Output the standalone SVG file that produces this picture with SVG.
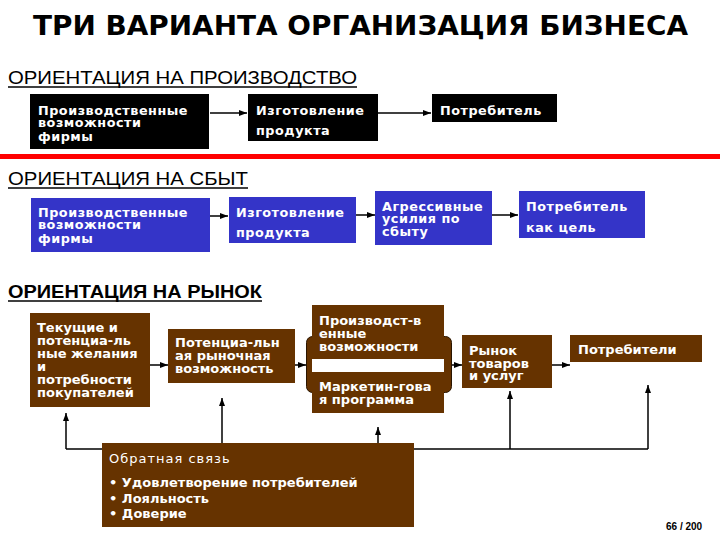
<svg xmlns="http://www.w3.org/2000/svg" width="720" height="540" viewBox="0 0 720 540">
<defs>
<marker id="ah" viewBox="0 0 8 6" refX="8" refY="3" markerWidth="8" markerHeight="6" orient="auto" markerUnits="userSpaceOnUse"><path d="M0,0 L8,3 L0,6 z" fill="#000"/></marker>
<style>
.title{font-family:"DejaVu Sans",sans-serif;font-weight:bold;font-size:27px;fill:#000}
.hdr{font-family:"Liberation Sans",Arial,sans-serif;font-size:18px;fill:#000}
.hdrb{font-family:"Liberation Sans",Arial,sans-serif;font-size:18px;font-weight:bold;fill:#000}
.ul{stroke:#000;stroke-width:1.5}
.blk{fill:#000}
.blu{fill:#3434C8}
.brn{fill:#663300}
.t{font-family:"DejaVu Sans",Verdana,sans-serif;font-size:13px;letter-spacing:1px;fill:#fff}
.tb{font-family:"DejaVu Sans",Verdana,sans-serif;font-size:13px;font-weight:bold;fill:#fff}
.tr{font-family:"DejaVu Sans",Verdana,sans-serif;font-size:12.8px;font-weight:bold;letter-spacing:0.5px;fill:#fff}
.con line,.con path{stroke:#000;stroke-width:1.5;fill:none}
.arr{marker-end:url(#ah)}
.pg{font-family:"Liberation Sans",Arial,sans-serif;font-size:10px;font-weight:bold;fill:#000}
</style>
</defs>
<rect x="0" y="0" width="720" height="540" fill="#fff"/>

<text class="title" x="33" y="35" textLength="655" lengthAdjust="spacingAndGlyphs">ТРИ ВАРИАНТА ОРГАНИЗАЦИЯ БИЗНЕСА</text>

<g id="header1">
<text class="hdr" x="8" y="84" textLength="349" lengthAdjust="spacingAndGlyphs">ОРИЕНТАЦИЯ НА ПРОИЗВОДСТВО</text>
<line class="ul" x1="8" y1="87" x2="357" y2="87"/>
</g>
<g id="header2">
<text class="hdr" x="8" y="185" textLength="240" lengthAdjust="spacingAndGlyphs">ОРИЕНТАЦИЯ НА СБЫТ</text>
<line class="ul" x1="8" y1="188" x2="248" y2="188"/>
</g>
<g id="header3">
<text class="hdrb" x="8" y="298" textLength="254" lengthAdjust="spacingAndGlyphs">ОРИЕНТАЦИЯ НА РЫНОК</text>
<line class="ul" x1="8" y1="301" x2="262" y2="301"/>
</g>

<rect id="redline" x="0" y="154" width="720" height="5" fill="#FF0000"/>

<g id="connectors" class="con">
<line class="arr" x1="210" y1="113" x2="247" y2="113"/>
<line class="arr" x1="378" y1="113" x2="431" y2="113"/>
<line class="arr" x1="210" y1="216" x2="228" y2="216"/>
<line class="arr" x1="356" y1="215" x2="375" y2="215"/>
<line class="arr" x1="492" y1="215" x2="518" y2="215"/>
<line class="arr" x1="150" y1="365" x2="168" y2="365"/>
<line class="arr" x1="295" y1="365" x2="306" y2="365"/>
<line class="arr" x1="452" y1="365" x2="462" y2="365"/>
<line class="arr" x1="552" y1="365" x2="570" y2="365"/>
<line x1="66" y1="449" x2="648" y2="449"/>
<line class="arr" x1="66" y1="449" x2="66" y2="413"/>
<line class="arr" x1="222" y1="443" x2="222" y2="398"/>
<line class="arr" x1="378" y1="443" x2="378" y2="427"/>
<line class="arr" x1="510" y1="449" x2="510" y2="391"/>
<line class="arr" x1="648" y1="449" x2="648" y2="385"/>
</g>

<g id="p1">
<rect class="blk" x="30" y="94" width="179" height="55"/>
<text class="tr" x="38" y="115">Производственные</text>
<text class="tr" x="38" y="127">возможности</text>
<text class="tr" x="38" y="141">фирмы</text>
</g>
<g id="p2">
<rect class="blk" x="248" y="94" width="130" height="47"/>
<text class="tr" x="256" y="115">Изготовление</text>
<text class="tr" x="256" y="135">продукта</text>
</g>
<g id="p3">
<rect class="blk" x="432" y="94" width="125" height="28"/>
<text class="tr" x="440" y="115">Потребитель</text>
</g>

<g id="s1">
<rect class="blu" x="31" y="198" width="179" height="54"/>
<text class="tr" x="38" y="217">Производственные</text>
<text class="tr" x="38" y="229">возможности</text>
<text class="tr" x="38" y="243">фирмы</text>
</g>
<g id="s2">
<rect class="blu" x="229" y="197" width="127" height="46"/>
<text class="tr" x="236" y="217">Изготовление</text>
<text class="tr" x="236" y="237">продукта</text>
</g>
<g id="s3">
<rect class="blu" x="375" y="191" width="117" height="54"/>
<text class="tr" x="382" y="211">Агрессивные</text>
<text class="tr" x="382" y="223">усилия по</text>
<text class="tr" x="382" y="236">сбыту</text>
</g>
<g id="s4">
<rect class="blu" x="519" y="191" width="126" height="47"/>
<text class="tr" x="526" y="211">Потребитель</text>
<text class="tr" x="526" y="232">как цель</text>
</g>

<g id="m1">
<rect class="brn" x="30" y="313" width="120" height="94"/>
<text class="tb" x="37" y="332">Текущие и</text>
<text class="tb" x="37" y="345">потенциа-ль</text>
<text class="tb" x="37" y="358">ные желания</text>
<text class="tb" x="37" y="371">и</text>
<text class="tb" x="37" y="384">потребности</text>
<text class="tb" x="37" y="397">покупателей</text>
</g>
<g id="m2">
<rect class="brn" x="168" y="329" width="127" height="54"/>
<text class="tb" x="175" y="347">Потенциа-льн</text>
<text class="tb" x="175" y="360">ая рыночная</text>
<text class="tb" x="175" y="373">возможность</text>
</g>
<g id="m3">
<rect x="306.5" y="336.5" width="145" height="56" rx="6" fill="#663300" stroke="#2a1500" stroke-width="1"/>
<rect class="brn" x="312" y="305" width="132" height="108"/>
<rect x="312" y="359" width="132" height="13" fill="#fff"/>
<text class="tb" x="319" y="325">Производст-в</text>
<text class="tb" x="319" y="338">енные</text>
<text class="tb" x="319" y="351">возможности</text>
<text class="tb" x="319" y="391">Маркетин-гова</text>
<text class="tb" x="319" y="404">я программа</text>
</g>
<g id="m4">
<rect class="brn" x="462" y="335" width="90" height="53"/>
<text class="tb" x="469" y="355">Рынок</text>
<text class="tb" x="469" y="368">товаров</text>
<text class="tb" x="469" y="380">и услуг</text>
</g>
<g id="m5">
<rect class="brn" x="570" y="335" width="132" height="27"/>
<text class="tb" x="578" y="354">Потребители</text>
</g>
<g id="feedback">
<rect class="brn" x="102" y="443" width="312" height="84"/>
<text class="t" x="109" y="463">Обратная связь</text>
<text class="tb" x="109" y="487">• Удовлетворение потребителей</text>
<text class="tb" x="109" y="503">• Лояльность</text>
<text class="tb" x="109" y="518">• Доверие</text>
</g>

<text class="pg" x="666" y="530">66 / 200</text>
</svg>
